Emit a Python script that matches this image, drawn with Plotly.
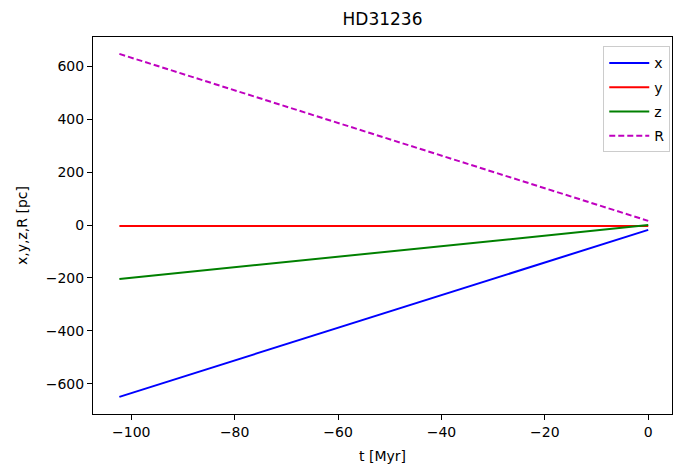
import plotly.graph_objects as go

# Trajectory of HD31236 traced back in time (straight-line motion)
t = [-102.3, 0.0]          # time [Myr]
x = [-650.0, -18.0]        # x [pc]
y = [-3.0, -3.0]           # y [pc]
z = [-204.0, 0.0]          # z [pc]
R = [648.0, 16.0]          # R [pc]

xticks = [-100, -80, -60, -40, -20, 0]
yticks = [-600, -400, -200, 0, 200, 400, 600]

font = "DejaVu Sans"

series = [
    ("x", x, "#0000ff", "solid"),
    ("y", y, "#ff0000", "solid"),
    ("z", z, "#008000", "solid"),
    ("R", R, "#bf00bf", "6px,3px"),
]

fig = go.Figure()
for name, vals, color, dash in series:
    fig.add_trace(go.Scatter(x=t, y=vals, mode="lines", name=name,
                             legendgroup=name,
                             line=dict(color=color, width=2, dash=dash)))

fig.update_layout(
    width=673, height=468,
    margin=dict(l=93, r=1, t=37, b=54),
    paper_bgcolor="white", plot_bgcolor="white",
    font=dict(family=font, size=14, color="black"),
    title=dict(text="HD31236", x=0.5, xref="paper", xanchor="center",
               y=1, yref="container", yanchor="top", pad=dict(t=13),
               font=dict(size=17, family=font, color="black")),
    legend=dict(x=0.997, y=0.975, xanchor="right", yanchor="top",
                bgcolor="rgba(255,255,255,0.8)", bordercolor="#cccccc",
                borderwidth=1, font=dict(size=14, family=font),
                itemwidth=40, tracegroupgap=3),
    showlegend=True,
)

fig.update_xaxes(
    range=[-107.4, 4.6], tickvals=xticks, ticks="outside", ticklen=5,
    tickwidth=1, tickcolor="black", showline=True, linecolor="black",
    linewidth=1, mirror=True, showgrid=False, zeroline=False,
    title=dict(text="t [Myr]", font=dict(size=14), standoff=12),
    tickfont=dict(size=14),
)
fig.update_yaxes(
    range=[-715, 712], tickvals=yticks, ticks="outside", ticklen=5,
    tickwidth=1, tickcolor="black", showline=True, linecolor="black",
    linewidth=1, mirror=True, showgrid=False, zeroline=False,
    title=dict(text="x,y,z,R [pc]", font=dict(size=14), standoff=14),
    tickfont=dict(size=14),
)

fig.write_html("out.html")
